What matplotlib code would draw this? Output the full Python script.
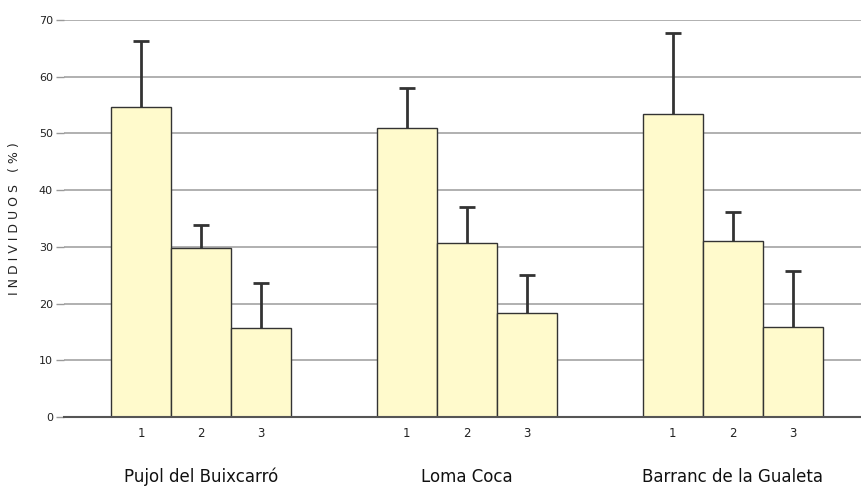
import numpy as np
import matplotlib
matplotlib.use("Agg")
import matplotlib.pyplot as plt
import matplotlib.transforms as mtransforms

sites = ["Pujol del Buixcarró", "Loma Coca", "Barranc de la Gualeta"]
classes = ["1", "2", "3"]
means = [[54.7, 29.8, 15.7],
         [51.0, 30.7, 18.3],
         [53.4, 31.0, 15.9]]
upper_err = [[11.6, 4.1, 7.9],
             [7.0, 6.3, 6.7],
             [14.3, 5.2, 9.8]]

fig = plt.figure(figsize=(8.61, 4.9), dpi=100)
ax = fig.add_axes([64 / 861, 73 / 490, 797 / 861, 397 / 490])

pitch = 4.43
for g, site in enumerate(sites):
    xs = g * pitch + np.arange(len(classes))
    tops = np.array(means[g]) + np.array(upper_err[g])
    ax.bar(xs, means[g], width=1.0, color="#fffacc", edgecolor="#333333",
           linewidth=1.0, zorder=3)
    # upper error bars only
    ax.vlines(xs, means[g], tops, color="#333333", linewidth=2, zorder=2)
    ax.plot(xs, tops, linestyle="none", marker="_", markersize=11,
            markeredgewidth=2, color="#333333", zorder=2)

ax.set_ylim(0, 70)
ax.set_xlim(-1.283, -1.283 + 797 / 60)
ax.set_yticks(range(0, 71, 10))
ax.tick_params(axis="y", length=6, width=1, color="#999999", labelsize=8,
               labelcolor="#222222", pad=2)
ax.yaxis.grid(True, color="#aaaaaa", linewidth=1.3, zorder=0)
ax.set_axisbelow(True)
ax.set_xticks([])
for side in ["top", "right", "left"]:
    ax.spines[side].set_visible(False)
ax.spines["bottom"].set_color("#555555")
ax.spines["bottom"].set_linewidth(1.5)
ax.spines["bottom"].set_zorder(4)

ax.set_ylabel("I N D I V I D U O S   ( % )", fontsize=9, color="#222222", labelpad=13)

trans = mtransforms.blended_transform_factory(ax.transData, fig.transFigure)
for g, site in enumerate(sites):
    for i, c in enumerate(classes):
        ax.text(g * pitch + i, 1 - 433 / 490, c, transform=trans, ha="center",
                va="center", fontsize=8.5, color="#222222")
    ax.text(g * pitch + 1, 1 - 477 / 490, site, transform=trans, ha="center",
            va="center", fontsize=12, color="#111111")

fig.savefig("out.png", dpi=100, facecolor="white")
